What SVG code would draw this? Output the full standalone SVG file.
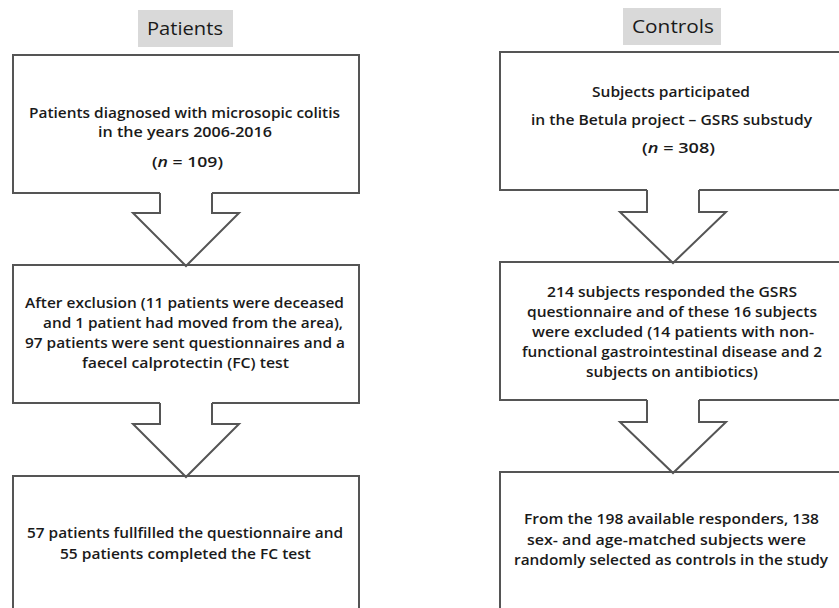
<svg xmlns="http://www.w3.org/2000/svg" width="839" height="608" viewBox="0 0 839 608">
<style>
.box{fill:none;stroke:#555;stroke-width:2;stroke-linejoin:miter}
.arr{fill:none;stroke:#555;stroke-width:2;stroke-linejoin:miter}
.hdr{fill:#d9d9d9}
text{font-family:"Open Sans","Liberation Sans",Arial,sans-serif;fill:#1a1a1a}
.t{font-size:14.5px;font-weight:600}
.h{font-size:19px;font-weight:500}
</style>
<rect width="839" height="608" fill="#fff"/>
<g id="label-patients">
<rect class="hdr" x="138" y="10" width="95" height="37"/>
<text class="h" x="147" y="35" textLength="76" lengthAdjust="spacingAndGlyphs">Patients</text>
</g>
<g id="label-controls">
<rect class="hdr" x="623" y="8" width="98" height="37"/>
<text class="h" x="632" y="33" textLength="82" lengthAdjust="spacingAndGlyphs">Controls</text>
</g>
<g id="p1">
<path class="box" d="M160,193 H13 V55 H359 V193 H212"/>
<text class="t" x="29" y="118" textLength="311" lengthAdjust="spacingAndGlyphs">Patients diagnosed with microsopic colitis</text>
<text class="t" x="98" y="137" textLength="174" lengthAdjust="spacingAndGlyphs">in the years 2006-2016</text>
<text class="t" x="152" y="167" textLength="71" lengthAdjust="spacingAndGlyphs">(<tspan font-style="italic">n</tspan> = 109)</text>
</g>
<g id="p2">
<path class="box" d="M160,403 H13 V265 H359 V403 H212"/>
<text class="t" x="25" y="308" textLength="319" lengthAdjust="spacingAndGlyphs">After exclusion (11 patients were deceased</text>
<text class="t" x="43" y="328" textLength="300" lengthAdjust="spacingAndGlyphs">and 1 patient  had  moved from the area),</text>
<text class="t" x="25" y="348" textLength="320" lengthAdjust="spacingAndGlyphs">97 patients were sent questionnaires and a</text>
<text class="t" x="82" y="368" textLength="207" lengthAdjust="spacingAndGlyphs">faecel calprotectin  (FC) test</text>
</g>
<g id="p3">
<path class="box" d="M13,612 V476 H359 V612"/>
<text class="t" x="27" y="538" textLength="316" lengthAdjust="spacingAndGlyphs">57 patients fullfilled the questionnaire and</text>
<text class="t" x="60" y="559" textLength="251" lengthAdjust="spacingAndGlyphs">55 patients completed the FC test</text>
</g>
<g id="c1">
<path class="box" d="M647,190 H500 V52 H846 V190 H699"/>
<text class="t" x="592" y="97" textLength="158" lengthAdjust="spacingAndGlyphs">Subjects participated</text>
<text class="t" x="531" y="125" textLength="281" lengthAdjust="spacingAndGlyphs">in the Betula project – GSRS substudy</text>
<text class="t" x="642" y="153" textLength="73" lengthAdjust="spacingAndGlyphs">(<tspan font-style="italic">n</tspan> = 308)</text>
</g>
<g id="c2">
<path class="box" d="M647,400 H500 V262 H846 V400 H699"/>
<text class="t" x="547" y="297" textLength="250" lengthAdjust="spacingAndGlyphs">214 subjects responded the GSRS</text>
<text class="t" x="527" y="317" textLength="290" lengthAdjust="spacingAndGlyphs">questionnaire and of these 16 subjects</text>
<text class="t" x="532" y="337" textLength="282" lengthAdjust="spacingAndGlyphs">were excluded  (14 patients with non-</text>
<text class="t" x="522" y="357" textLength="300" lengthAdjust="spacingAndGlyphs">functional gastrointestinal disease and 2</text>
<text class="t" x="586" y="377" textLength="172" lengthAdjust="spacingAndGlyphs">subjects on antibiotics)</text>
</g>
<g id="c3">
<path class="box" d="M500,612 V472 H846 V612"/>
<text class="t" x="524" y="524" textLength="295" lengthAdjust="spacingAndGlyphs">From the 198 available responders, 138</text>
<text class="t" x="527" y="545" textLength="279" lengthAdjust="spacingAndGlyphs">sex- and  age-matched subjects were</text>
<text class="t" x="514" y="565" textLength="314" lengthAdjust="spacingAndGlyphs">randomly selected as controls in the study</text>
</g>
<g id="connectors">
<path class="arr" d="M160,193 V213 H133 L186,266 L239,213 H212 V193"/>
<path class="arr" d="M160,403 V424 H133 L186,477 L239,424 H212 V403"/>
<path class="arr" d="M647,190 V212 H620 L673,263 L726,212 H699 V190"/>
<path class="arr" d="M647,400 V422 H620 L673,473 L726,422 H699 V400"/>
</g>
</svg>
